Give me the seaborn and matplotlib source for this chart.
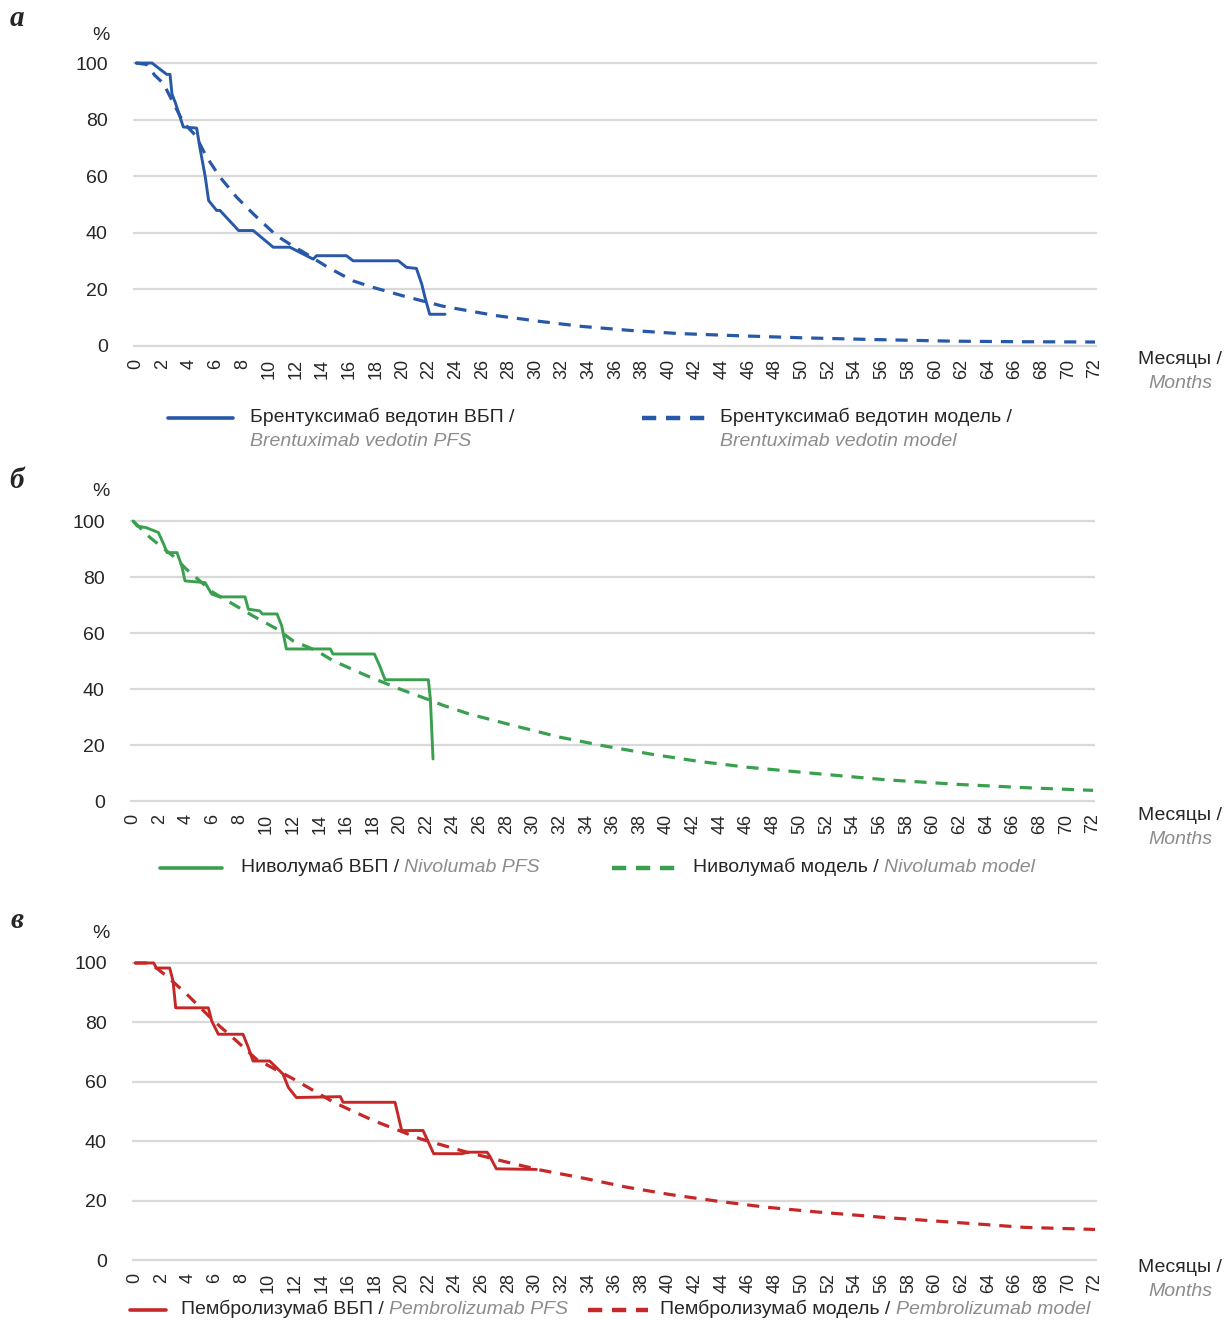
import pandas as pd
import seaborn as sns
import matplotlib.pyplot as plt
from matplotlib.lines import Line2D

W, H = 1225, 1321

month_ticks = list(range(0, 73, 2))
pct_ticks = [0, 20, 40, 60, 80, 100]

# а: брентуксимаб ведотин
bv_pfs_t = [0, 1.2, 2.3, 2.55, 2.7, 2.95, 3.3, 3.55, 4.55, 4.8, 5.2, 5.45, 6.05, 6.3,
            7.7, 8.8, 10.3, 11.55, 13.3, 13.55, 15.8, 16.3, 19.7, 20.3, 21.05, 21.45,
            21.7, 22.05, 23.2]
bv_pfs_s = [100, 100, 96, 96, 89, 86, 81, 77.4, 77, 70, 59.7, 51.4, 47.9, 47.9,
            40.8, 40.8, 34.9, 34.9, 30.7, 31.9, 31.9, 30.1, 30.1, 27.8, 27.4, 21.9,
            17.1, 11.2, 11.2]
bv_mod_t = [0, 0.8, 1.4, 2.05, 3.55, 4.45, 5.3, 6.3, 7.55, 8.8, 10.55, 11.55, 12.8,
            14.4, 16.3, 17.8, 20.05, 23.0, 25, 27, 30.3, 33.5, 37.1, 40.7, 44.7,
            49.9, 55.1, 61.3, 66.3, 72]
bv_mod_s = [100, 99.5, 95.7, 92.8, 79, 74.5, 66.8, 59.7, 52.6, 46.7, 39, 36, 32.5,
            27.8, 23, 20.7, 17.7, 14.1, 12.4, 10.75, 8.7, 6.9, 5.5, 4.4, 3.7,
            2.9, 2.3, 1.7, 1.5, 1.4]

# б: ниволумаб
nivo_pfs_t = [0, 0.3, 1.0, 1.9, 2.3, 2.55, 3.3, 3.65, 3.9, 5.4, 5.9, 6.5, 7.5, 8.4,
              8.65, 9.5, 9.7, 10.8, 11.15, 11.5, 14.8, 15.0, 18.1, 18.5, 18.9, 22.15,
              22.3, 22.5]
nivo_pfs_s = [100, 98.2, 97.6, 95.9, 91.7, 88.7, 88.7, 84, 78.6, 78, 73.9, 72.9, 72.9,
              72.9, 68.5, 67.9, 66.8, 66.8, 62.6, 54.3, 54.3, 52.5, 52.5, 48.3, 43.3,
              43.3, 36.5, 15]
nivo_mod_t = [0, 1.3, 3.0, 4.0, 6.0, 7.5, 9.0, 10.8, 12.0, 13.75, 15.0, 17.5, 20.0,
              22.0, 23.3, 25.2, 28.5, 32.0, 35.3, 38.9, 42.5, 46.0, 51.2, 56.4, 62.0,
              67.2, 72]
nivo_mod_s = [100, 94, 87.5, 82.8, 74.5, 70.3, 66.1, 61.4, 57.2, 53.7, 50.1, 44.8, 40,
              36.5, 34.1, 31.1, 27.0, 22.8, 19.7, 16.7, 14.1, 12.1, 9.8, 7.6, 5.9,
              4.7, 3.8]

# в: пембролизумаб
pem_pfs_t = [0, 1.4, 1.6, 2.6, 2.85, 3.05, 5.5, 5.75, 6.25, 8.1, 8.5, 8.85, 10.1, 11.1,
             11.5, 12.1, 15.4, 15.6, 19.5, 20.0, 21.6, 22.4, 24.5, 25.0, 26.4, 26.6,
             27.1, 30.1]
pem_pfs_s = [100, 100, 98.3, 98.3, 93.9, 84.9, 84.9, 80.5, 76, 76, 71.5, 67, 67, 62.6,
             58.1, 54.7, 55, 53.1, 53.1, 43.6, 43.6, 35.8, 35.8, 36.3, 36.3, 35,
             30.7, 30.5]
pem_mod_t = [0, 1.0, 1.6, 2.4, 3.9, 5.9, 7.6, 9.1, 11.9, 14.9, 17.9, 21.4, 24.9, 28.4,
             30.4, 33.7, 36.9, 40.2, 43.7, 47.3, 51.1, 56.0, 61.4, 66.7, 72]
pem_mod_s = [100, 100, 98.3, 95.5, 89.4, 80.5, 73.8, 67.6, 60.9, 53.1, 46.9, 40.8, 36.3,
             32.4, 30.3, 27.5, 24.5, 22.0, 19.8, 17.8, 16.2, 14.4, 12.7, 11.0, 10.3]

sns.set_theme(style="white")
plt.rcParams['font.family'] = ['Liberation Sans', 'DejaVu Sans']

GRAY = '#8c8c8c'
fig = plt.figure(figsize=(W / 100, H / 100), dpi=100)


def fx(x):
    return x / W


def fy(y):
    return 1 - y / H


panels = [
    dict(letter='а', letter_y=18, top=60.2, bottom=348.8, left=132.7, right=1097,
         color='#2858a8', pfs=(bv_pfs_t, bv_pfs_s), mod=(bv_mod_t, bv_mod_s),
         pct_y=35, months_y=360,
         leg_y=418, solid=(168, 233), dash=(642, 706), txt1=250, txt2=720,
         lab1=('Брентуксимаб ведотин ВБП /', 'Brentuximab vedotin PFS'),
         lab2=('Брентуксимаб ведотин модель /', 'Brentuximab vedotin model'),
         two_lines=True),
    dict(letter='б', letter_y=480, top=518.2, bottom=803.8, left=129.7, right=1095,
         color='#3aa050', pfs=(nivo_pfs_t, nivo_pfs_s), mod=(nivo_mod_t, nivo_mod_s),
         pct_y=491, months_y=816,
         leg_y=868, solid=(160, 222), dash=(612, 678), txt1=241, txt2=693,
         lab1=('Ниволумаб ВБП / ', 'Nivolumab PFS'),
         lab2=('Ниволумаб модель / ', 'Nivolumab model'),
         two_lines=False),
    dict(letter='в', letter_y=920, top=960.0, bottom=1263.0, left=131.7, right=1097,
         color='#c62828', pfs=(pem_pfs_t, pem_pfs_s), mod=(pem_mod_t, pem_mod_s),
         pct_y=933, months_y=1268,
         leg_y=1310, solid=(130, 166), dash=(588, 648), txt1=181, txt2=660,
         lab1=('Пембролизумаб ВБП / ', 'Pembrolizumab PFS'),
         lab2=('Пембролизумаб модель / ', 'Pembrolizumab model'),
         two_lines=False),
]

for p in panels:
    ax = fig.add_axes([fx(p['left']), fy(p['bottom']),
                       (p['right'] - p['left']) / W, (p['bottom'] - p['top']) / H])
    df_pfs = pd.DataFrame({'t': p['pfs'][0], 's': p['pfs'][1]})
    df_mod = pd.DataFrame({'t': p['mod'][0], 's': p['mod'][1]})
    sns.lineplot(data=df_pfs, x='t', y='s', ax=ax, color=p['color'], lw=2.1,
                 sort=False, estimator=None)
    sns.lineplot(data=df_mod, x='t', y='s', ax=ax, color=p['color'], lw=2.3,
                 sort=False, estimator=None)
    ax.lines[-1].set_dashes([3.8, 2.8])

    ax.set_xlim(-0.25, 72.15)
    ax.set_ylim(-1, 101)
    ax.set_xticks(month_ticks)
    ax.set_yticks(pct_ticks)
    ax.set_xlabel('')
    ax.set_ylabel('')
    ax.tick_params(axis='x', labelsize=13, pad=7, length=0, labelrotation=90)
    ax.tick_params(axis='y', labelsize=14, pad=18, length=0)
    ax.yaxis.grid(True, color='#d9d9d9', lw=1.6)
    ax.xaxis.grid(False)
    ax.set_axisbelow(True)
    for s in ax.spines.values():
        s.set_visible(False)

    # panel letter, % and month labels
    fig.text(fx(17), fy(p['letter_y']), p['letter'], fontsize=21, fontweight='bold',
             fontstyle='italic', family=['Liberation Serif', 'DejaVu Serif'],
             ha='center', va='center')
    fig.text(fx(101), fy(p['pct_y']), '%', fontsize=14, ha='center', va='center')
    fig.text(fx(1180), fy(p['months_y']), 'Месяцы /', fontsize=14,
             ha='center', va='center')
    fig.text(fx(1180), fy(p['months_y'] + 24), 'Months', fontsize=14,
             fontstyle='italic', color=GRAY, ha='center', va='center')

    # legend
    fig.add_artist(Line2D([fx(p['solid'][0]), fx(p['solid'][1])],
                          [fy(p['leg_y']), fy(p['leg_y'])], color=p['color'], lw=2.6))
    fig.add_artist(Line2D([fx(p['dash'][0]), fx(p['dash'][1])],
                          [fy(p['leg_y']), fy(p['leg_y'])], color=p['color'], lw=3.2,
                          dashes=[3.2, 2.2]))
    for x0, (ru, en) in ((p['txt1'], p['lab1']), (p['txt2'], p['lab2'])):
        if p['two_lines']:
            fig.text(fx(x0), fy(p['leg_y'] - 1), ru, fontsize=14, ha='left', va='center')
            fig.text(fx(x0), fy(p['leg_y'] + 23), en, fontsize=14, fontstyle='italic',
                     color=GRAY, ha='left', va='center')
        else:
            t1 = fig.text(fx(x0), fy(p['leg_y'] - 1), ru, fontsize=14,
                          ha='left', va='center')
            ax.annotate(en, xy=(1, 0), xycoords=t1, fontsize=14, fontstyle='italic',
                        color=GRAY, ha='left', va='bottom', annotation_clip=False)

fig.savefig('out.png', dpi=100, facecolor='white')
